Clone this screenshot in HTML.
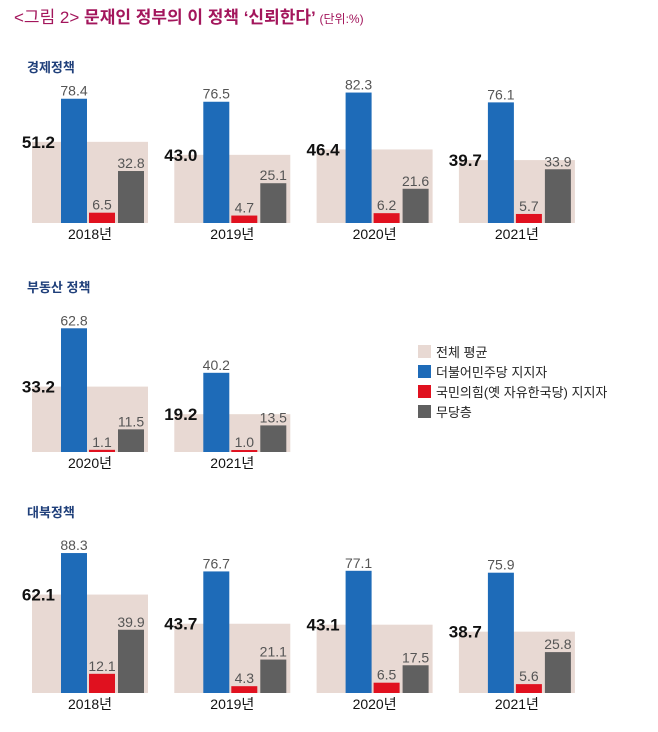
<!DOCTYPE html>
<html><head><meta charset="utf-8">
<style>
body{margin:0;background:#fff;width:658px;height:732px;overflow:hidden;font-family:"Liberation Sans","Noto Sans CJK KR",sans-serif;}
svg{display:block}
</style></head>
<body>
<svg id="c" width="658" height="732" xmlns="http://www.w3.org/2000/svg">
<text x="14" y="23" fill="#a3165c" font-size="17" font-weight="bold" font-family="Liberation Sans, Noto Sans CJK KR, sans-serif"><tspan font-weight="normal">&lt;그림 2&gt;</tspan> 문재인 정부의 이 정책 ‘신뢰한다’ <tspan font-size="12" font-weight="normal">(단위:%)</tspan></text>
<g font-size="13" fill="#222" font-family="Liberation Sans, Noto Sans CJK KR, sans-serif">
<rect x="418" y="345" width="13" height="13" fill="#e8d9d3"/><text x="436" y="357">전체 평균</text>
<rect x="418" y="365" width="13" height="13" fill="#1e6bb8"/><text x="436" y="377">더불어민주당 지지자</text>
<rect x="418" y="385" width="13" height="13" fill="#e0111f"/><text x="436" y="397">국민의힘(옛 자유한국당) 지지자</text>
<rect x="418" y="405" width="13" height="13" fill="#606060"/><text x="436" y="417">무당층</text>
</g>
</svg>
<script>
const sectionTitles=["경제정책","부동산 정책","대북정책"];
const years1=["2018년","2019년","2020년","2021년"];
const avg1=[51.2,43.0,46.4,39.7];
const dem1=[78.4,76.5,82.3,76.1];
const ppp1=[6.5,4.7,6.2,5.7];
const ind1=[32.8,25.1,21.6,33.9];
const years2=["2020년","2021년"];
const avg2=[33.2,19.2];
const dem2=[62.8,40.2];
const ppp2=[1.1,1.0];
const ind2=[11.5,13.5];
const years3=["2018년","2019년","2020년","2021년"];
const avg3=[62.1,43.7,43.1,38.7];
const dem3=[88.3,76.7,77.1,75.9];
const ppp3=[12.1,4.3,6.5,5.6];
const ind3=[39.9,21.1,17.5,25.8];

const svg=document.getElementById('c');
const NS='http://www.w3.org/2000/svg';
const F='Liberation Sans, Noto Sans CJK KR, sans-serif';
function mk(tag,attrs,parent){const e=document.createElementNS(NS,tag);for(const k in attrs)e.setAttribute(k,attrs[k]);parent.appendChild(e);return e;}
const sections=[
 {title:sectionTitles[0],ty:72,base:223,scale:1.585,years:years1,avg:avg1,dem:dem1,ppp:ppp1,ind:ind1},
 {title:sectionTitles[1],ty:292,base:452,scale:1.97,years:years2,avg:avg2,dem:dem2,ppp:ppp2,ind:ind2},
 {title:sectionTitles[2],ty:517,base:693,scale:1.585,years:years3,avg:avg3,dem:dem3,ppp:ppp3,ind:ind3}
];
function xPanel(i){return 32+i*142.3;}
sections.forEach((s,si)=>{
 const g=mk('g',{},svg);
 
 
 const t=mk('text',{x:27,y:s.ty,'font-size':13,'font-weight':'bold',fill:'#1f3f7a','font-family':F},g);
 t.textContent=s.title;
 
 
 const y=v=>s.base-v*s.scale;
 s.years.forEach((yr,i)=>{
  const x0=xPanel(i);
  const bg=mk('rect',{x:x0,y:y(s.avg[i]),width:116,height:s.avg[i]*s.scale,fill:'#e8d9d3'},g);
  
  
  const al=mk('text',{x:x0+23,y:y(s.avg[i])+6,'text-anchor':'end','font-size':17,'font-weight':'bold',fill:'#111','font-family':F},g);
  al.textContent=s.avg[i].toFixed(1);
  
  
  const series=[[s.dem,'#1e6bb8',29,'bar-democratic'],[s.ppp,'#e0111f',57,'bar-ppp'],[s.ind,'#606060',86,'bar-independent']];
  series.forEach(([arr,col,dx,nm])=>{
   const v=arr[i];
   const r=mk('rect',{x:x0+dx,y:y(v),width:26,height:Math.max(v*s.scale,1.5),fill:col},g);
   
   
   const l=mk('text',{x:x0+dx+13,y:y(v)-3,'text-anchor':'middle','font-size':14,fill:'#555','font-family':F},g);
   l.textContent=v.toFixed(1);
   
   
  });
  const yl=mk('text',{x:x0+58,y:s.base+16,'text-anchor':'middle','font-size':14,fill:'#111','font-family':F},g);
  yl.textContent=yr;
  
  
 });
});
</script>
</body></html>
